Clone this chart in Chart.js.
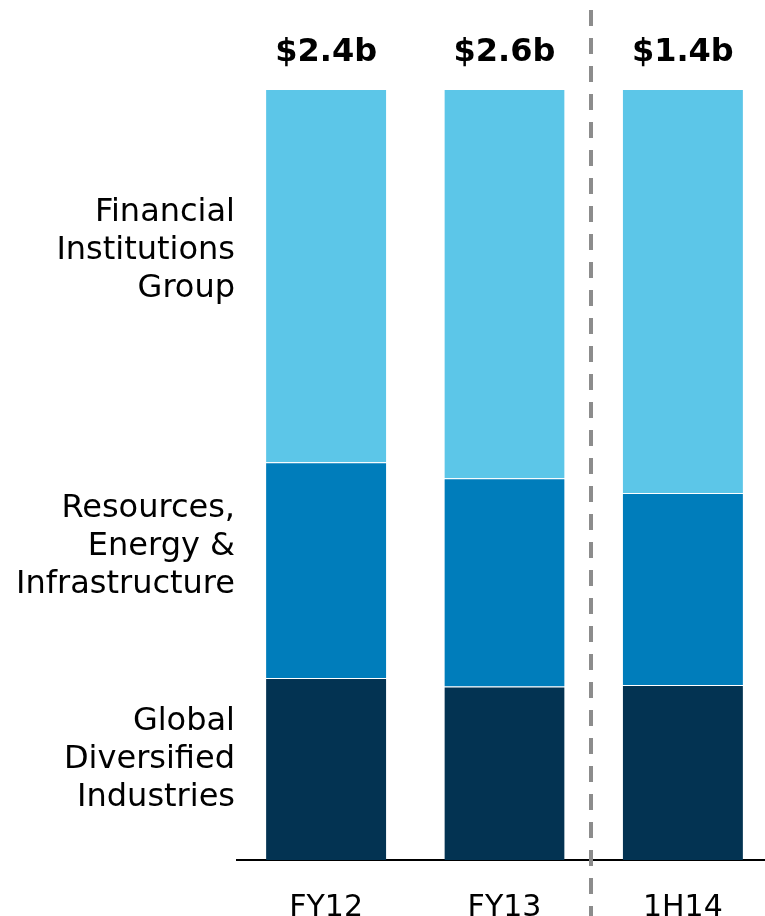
<!DOCTYPE html>
<html>
<head>
<meta charset="utf-8">
<style>
  html, body { margin: 0; padding: 0; background: #fff; overflow: hidden; }
  #wrap { width: 772px; height: 916px; }
</style>
<script src="https://cdn.jsdelivr.net/npm/chart.js@4/dist/chart.umd.min.js"></script>
</head>
<body>
<div id="wrap"><canvas id="c" width="772" height="916"></canvas></div>
<script>
// Periods and revenue totals
const periods = ['FY12', 'FY13', '1H14'];
const totals = ['$2.4b', '$2.6b', '$1.4b'];

// Share of revenue by segment (%)
const globalDiversified = [23.6, 22.5, 22.7];
const resourcesEnergy = [28.0, 27.0, 24.9];
const financialInstitutions = [48.4, 50.5, 52.4];

// Segment names shown to the left of the first bar
const segmentNames = [
  ['Global', 'Diversified', 'Industries'],
  ['Resources,', 'Energy &', 'Infrastructure'],
  ['Financial', 'Institutions', 'Group']
];

const FONT = '"DejaVu Sans", Verdana, sans-serif';

const annotate = {
  id: 'annotate',
  afterDatasetsDraw(chart, args, opts) {
    const ctx = chart.ctx;
    const x = chart.scales.x;
    ctx.save();

    // totals above each bar
    ctx.fillStyle = '#000';
    ctx.font = 'bold 32px ' + FONT;
    ctx.textAlign = 'center';
    ctx.textBaseline = 'middle';
    totals.forEach((t, i) => {
      ctx.fillText(t, x.getPixelForValue(i), 53);
    });

    // segment names beside the first bar
    ctx.font = '32px ' + FONT;
    ctx.textAlign = 'right';
    const lh = 38;
    chart.data.datasets.forEach((ds, di) => {
      const el = chart.getDatasetMeta(di).data[0];
      const mid = (el.y + el.base) / 2 + opts.shift[di];
      const lines = segmentNames[di];
      lines.forEach((ln, li) => {
        ctx.fillText(ln, chart.chartArea.left - 2, mid + (li - (lines.length - 1) / 2) * lh);
      });
    });
    ctx.restore();
  },
  afterDraw(chart) {
    // dashed divider between full years and the half year
    const ctx = chart.ctx;
    const x = chart.scales.x;
    const dx = Math.round((x.getPixelForValue(1) + x.getPixelForValue(2)) / 2) - 3;
    ctx.save();
    ctx.strokeStyle = '#8c8c8c';
    ctx.lineWidth = 4;
    ctx.setLineDash([16, 12]);
    ctx.beginPath();
    ctx.moveTo(dx, 10);
    ctx.lineTo(dx, 916);
    ctx.stroke();
    ctx.restore();
  }
};

const seg = (label, data, color) => ({
  label, data,
  backgroundColor: color,
  borderColor: 'rgba(255,255,255,0.3)',
  borderWidth: { top: 1, left: 0, right: 0, bottom: 0 },
  borderSkipped: false,
  barPercentage: 0.674,
  categoryPercentage: 1
});

new Chart(document.getElementById('c'), {
  type: 'bar',
  data: {
    labels: periods,
    datasets: [
      seg('Global Diversified Industries', globalDiversified, '#033352'),
      seg('Resources, Energy & Infrastructure', resourcesEnergy, '#007DBB'),
      seg('Financial Institutions Group', financialInstitutions, '#5CC6E8')
    ]
  },
  options: {
    responsive: false,
    animation: false,
    layout: { padding: { top: 89, left: 237, right: 0, bottom: 0 } },
    plugins: {
      legend: { display: false },
      tooltip: { enabled: false },
      annotate: { shift: [-9, -23, -25] }
    },
    scales: {
      x: {
        stacked: true,
        grid: { display: false },
        border: { display: true, color: '#000', width: 2 },
        ticks: { color: '#000', font: { family: FONT, size: 30 }, padding: 22 },
        afterFit(s) { s.height = 56; }
      },
      y: {
        stacked: true,
        display: false,
        min: 0,
        max: 100
      }
    }
  },
  plugins: [annotate]
});
</script>
</body>
</html>
